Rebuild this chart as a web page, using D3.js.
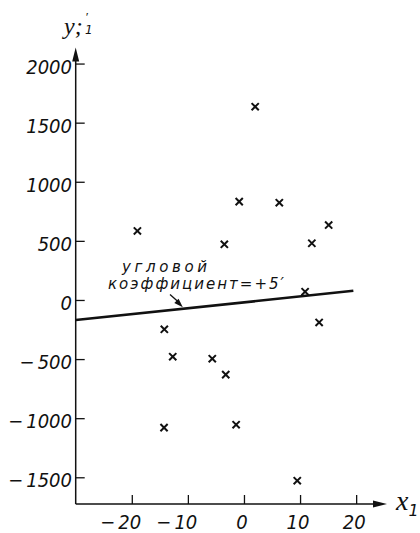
<!DOCTYPE html>
<html>
<head>
<meta charset="utf-8">
<script src="https://cdn.jsdelivr.net/npm/d3@7/dist/d3.min.js"></script>
<style>
  html, body { margin: 0; padding: 0; background: #fff; }
  svg { display: block; }
  .tick-label { font-family: "DejaVu Sans Condensed", "DejaVu Sans", sans-serif; font-stretch: condensed; font-style: oblique; font-size: 20px; fill: #111; }
  .note { font-family: "DejaVu Sans", sans-serif; font-style: oblique; font-size: 15px; fill: #111; }
</style>
</head>
<body>
<svg id="chart" width="420" height="533"></svg>
<script>
// Sample points (x1, y'1)
const xValues = [2.0, -0.85, 6.3, 15.1, 12.1, -3.5, -19.0, 10.9, 13.4, -14.2, -12.7, -5.65, -3.25, -14.25, -1.4, 9.5];
const yValues = [1635, 832, 823, 634, 480, 471, 584, 70, -190, -248, -480, -497, -632, -1080, -1055, -1529];

// Fitted line: slope and intercept, drawn over its x span
const lineSlope = 5;
const lineIntercept = -20;
const lineXSpan = [-30, 19.5];

// Axis ticks
const xTicks = [-20, -10, 0, 10, 20];
const yTicks = [-1500, -1000, -500, 0, 500, 1000, 1500, 2000];

// Annotation lines
const noteLines = ["угловой", "коэффициент=+5′"];

const svg = d3.select("#chart");
const ink = "#111";

const x = d3.scaleLinear().domain([-30, 25.5]).range([75.7, 387]);
const y = d3.scaleLinear().domain([-1726, 2135]).range([504, 47.6]);

const x0 = x(-30), y0 = y(-1726);

// Axes lines
svg.append("line").attr("x1", x0).attr("y1", y0).attr("x2", x(25.5) - 6).attr("y2", y0)
  .attr("stroke", ink).attr("stroke-width", 1.5);
svg.append("line").attr("x1", x0).attr("y1", y0).attr("x2", x0).attr("y2", y(2135) + 6)
  .attr("stroke", ink).attr("stroke-width", 1.5);

// Arrowheads
const xe = x(25.5), ye = y(2135);
svg.append("path").attr("d", `M${xe},${y0} L${xe - 14},${y0 - 3.5} L${xe - 14},${y0 + 3.5} Z`).attr("fill", ink);
svg.append("path").attr("d", `M${x0},${ye} L${x0 - 3.5},${ye + 14} L${x0 + 3.5},${ye + 14} Z`).attr("fill", ink);

// Axis ticks via d3 axes (marks only), labels drawn separately
const xAxis = d3.axisTop(x).tickValues(xTicks).tickSize(9).tickFormat("");
const gx = svg.append("g").attr("transform", `translate(0,${y0})`).call(xAxis);
gx.select(".domain").remove();
gx.selectAll(".tick line").attr("stroke", ink).attr("stroke-width", 1.3);

const yAxis = d3.axisRight(y).tickValues(yTicks).tickSize(9).tickFormat("");
const gy = svg.append("g").attr("transform", `translate(${x0},0)`).call(yAxis);
gy.select(".domain").remove();
gy.selectAll(".tick line").attr("stroke", ink).attr("stroke-width", 1.3);

// Tick labels with a detached minus sign
function numberLabel(g, v, px, py, anchor) {
  const digits = String(Math.abs(v));
  const t = g.append("text").attr("class", "tick-label").attr("x", px).attr("y", py)
    .attr("text-anchor", anchor).text(digits);
  if (v < 0) {
    const bb = t.node().getBBox();
    g.append("text").attr("class", "tick-label").attr("x", bb.x - 3).attr("y", py)
      .attr("text-anchor", "end").text("−");
  }
}
const labels = svg.append("g");
xTicks.forEach(v => numberLabel(labels, v, x(v) - 2, 529, "middle"));
yTicks.forEach(v => numberLabel(labels, v, 72, y(v) + 10, "end"));

// Axis titles
const serifItalic = g => g.style("font-family", "'Liberation Serif', serif").style("font-style", "italic").attr("fill", ink);
svg.append("text").attr("x", 64).attr("y", 34).style("font-size", "24px").call(serifItalic).text("y;");
svg.append("text").attr("x", 85).attr("y", 34).style("font-size", "12px")
  .style("font-family", "'DejaVu Sans', sans-serif").style("font-style", "oblique").attr("fill", ink).text("1");
svg.append("text").attr("x", 85).attr("y", 21).style("font-size", "13px").call(serifItalic).text("′");

const xTitle = svg.append("text").attr("x", 396).attr("y", 510).style("font-size", "28px").call(serifItalic);
xTitle.append("tspan").text("x");
xTitle.append("tspan").attr("dy", 6).style("font-size", "16px").style("font-family", "'DejaVu Sans', sans-serif").text("1");

// Fitted line
svg.append("line")
  .attr("x1", x(lineXSpan[0])).attr("y1", y(lineIntercept + lineSlope * lineXSpan[0]))
  .attr("x2", x(lineXSpan[1])).attr("y2", y(lineIntercept + lineSlope * lineXSpan[1]))
  .attr("stroke", ink).attr("stroke-width", 2.6);

// Points as crosses
const s = 3.6;
svg.append("g").selectAll("path").data(d3.range(xValues.length)).join("path")
  .attr("d", i => {
    const px = x(xValues[i]), py = y(yValues[i]);
    return `M${px - s},${py - s}L${px + s},${py + s}M${px - s},${py + s}L${px + s},${py - s}`;
  })
  .attr("stroke", ink).attr("stroke-width", 2).attr("fill", "none");

// Annotation with leader arrow to the line
svg.append("text").attr("class", "note").attr("x", 122).attr("y", 272)
  .attr("textLength", 85).attr("lengthAdjust", "spacing").text(noteLines[0]);
svg.append("text").attr("class", "note").attr("x", 108).attr("y", 289)
  .attr("textLength", 176).attr("lengthAdjust", "spacing").text(noteLines[1]);

const ax = -10.9, tipX = x(ax), tipY = y(lineIntercept + lineSlope * ax) - 1.5;
svg.append("line").attr("x1", 170).attr("y1", 294.5).attr("x2", tipX - 3).attr("y2", tipY - 4)
  .attr("stroke", ink).attr("stroke-width", 1.3);
const ang = Math.atan2(tipY - 294.5, tipX - 170);
const hl = 9, hw = 3;
const bx = tipX - hl * Math.cos(ang), by = tipY - hl * Math.sin(ang);
svg.append("path")
  .attr("d", `M${tipX},${tipY}L${bx - hw * Math.sin(ang)},${by + hw * Math.cos(ang)}L${bx + hw * Math.sin(ang)},${by - hw * Math.cos(ang)}Z`)
  .attr("fill", ink);
</script>
</body>
</html>
